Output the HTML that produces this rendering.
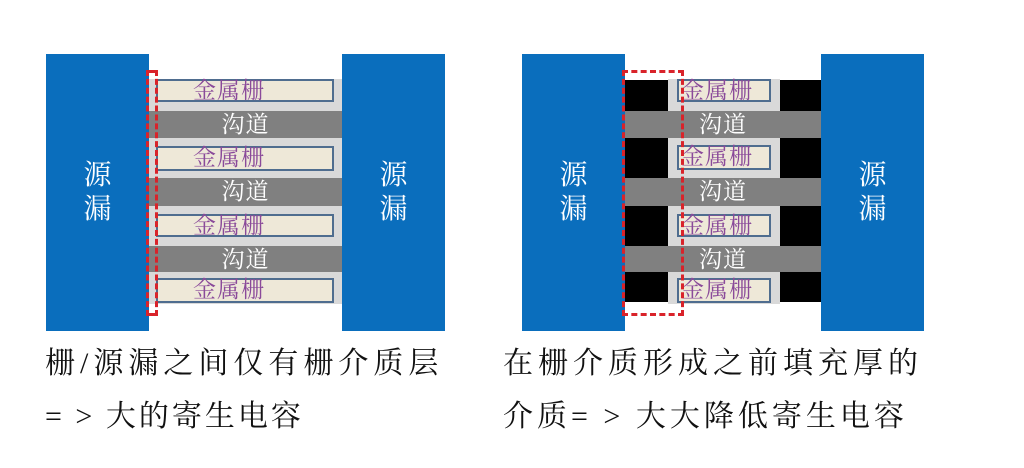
<!DOCTYPE html>
<html><head><meta charset="utf-8"><style>
body{margin:0;width:1024px;height:468px;background:#fff;position:relative;overflow:hidden;font-family:"Liberation Sans","Noto Sans CJK SC",sans-serif}
div{position:absolute;box-sizing:border-box}
.sd{background:#0a6ebd;color:#fff;font-size:28px;line-height:34px;text-align:center;display:flex;align-items:center;justify-content:center;font-family:"Liberation Serif","Noto Serif CJK SC",serif}
.lg{background:#d9d9d9}
.ch{background:#808080;color:#fff;font-size:23px;text-align:center;line-height:27px;font-family:"Liberation Serif","Noto Serif CJK SC",serif;letter-spacing:1px}
.gt{background:#eee8d8;border:2px solid #4f6d8f;color:#8a4a9a;font-size:23px;line-height:20px;font-family:"Liberation Serif","Noto Serif CJK SC",serif;letter-spacing:1px;white-space:nowrap}
.bk{background:#000}
.rd{border:3px dashed #d9232a}
.cap{font-family:"Liberation Serif","Noto Serif CJK SC",serif;font-size:30px;color:#111;letter-spacing:5px;white-space:nowrap}
</style></head><body>
<!-- left -->
<div class="lg" style="left:149px;top:79px;width:193px;height:225px"></div>
<div class="ch" style="left:149px;top:111px;width:193px;height:27px">沟道</div>
<div class="ch" style="left:149px;top:178px;width:193px;height:28px">沟道</div>
<div class="ch" style="left:149px;top:246px;width:193px;height:26px">沟道</div>
<div class="gt" style="left:156px;top:79px;width:178px;height:23px;padding-left:35px">金属栅</div>
<div class="gt" style="left:156px;top:146px;width:178px;height:25px;padding-left:35px">金属栅</div>
<div class="gt" style="left:156px;top:214px;width:178px;height:23px;padding-left:35px">金属栅</div>
<div class="gt" style="left:156px;top:278px;width:178px;height:25px;padding-left:35px">金属栅</div>
<div class="sd" style="left:46px;top:54px;width:103px;height:277px">源<br>漏</div>
<div class="sd" style="left:342px;top:54px;width:103px;height:277px">源<br>漏</div>
<div class="rd" style="left:146px;top:70px;width:12px;height:246px"></div>
<!-- right -->
<div class="lg" style="left:668px;top:79px;width:112px;height:225px"></div>
<div class="bk" style="left:625px;top:80px;width:43px;height:31px"></div>
<div class="bk" style="left:625px;top:138px;width:43px;height:40px"></div>
<div class="bk" style="left:625px;top:206px;width:43px;height:40px"></div>
<div class="bk" style="left:625px;top:272px;width:43px;height:30px"></div>
<div class="bk" style="left:780px;top:80px;width:41px;height:31px"></div>
<div class="bk" style="left:780px;top:138px;width:41px;height:40px"></div>
<div class="bk" style="left:780px;top:206px;width:41px;height:40px"></div>
<div class="bk" style="left:780px;top:272px;width:41px;height:30px"></div>
<div class="ch" style="left:625px;top:111px;width:196px;height:27px">沟道</div>
<div class="ch" style="left:625px;top:178px;width:196px;height:28px">沟道</div>
<div class="ch" style="left:625px;top:246px;width:196px;height:26px">沟道</div>
<div class="gt" style="left:677px;top:79px;width:94px;height:23px;padding-left:2px">金属栅</div>
<div class="gt" style="left:677px;top:145px;width:94px;height:25px;padding-left:2px">金属栅</div>
<div class="gt" style="left:677px;top:214px;width:94px;height:23px;padding-left:2px">金属栅</div>
<div class="gt" style="left:677px;top:278px;width:94px;height:25px;padding-left:2px">金属栅</div>
<div class="sd" style="left:522px;top:54px;width:103px;height:277px">源<br>漏</div>
<div class="sd" style="left:821px;top:54px;width:103px;height:277px">源<br>漏</div>
<div class="rd" style="left:622px;top:70px;width:62px;height:246px"></div>
<!-- captions -->
<div class="cap" style="left:45px;top:338px">栅/源漏之间仅有栅介质层</div>
<div class="cap" style="left:45px;top:391px;letter-spacing:3px">= &gt; 大的寄生电容</div>
<div class="cap" style="left:503px;top:338px">在栅介质形成之前填充厚的</div>
<div class="cap" style="left:503px;top:391px;letter-spacing:4px">介质= &gt; 大大降低寄生电容</div>
</body></html>
